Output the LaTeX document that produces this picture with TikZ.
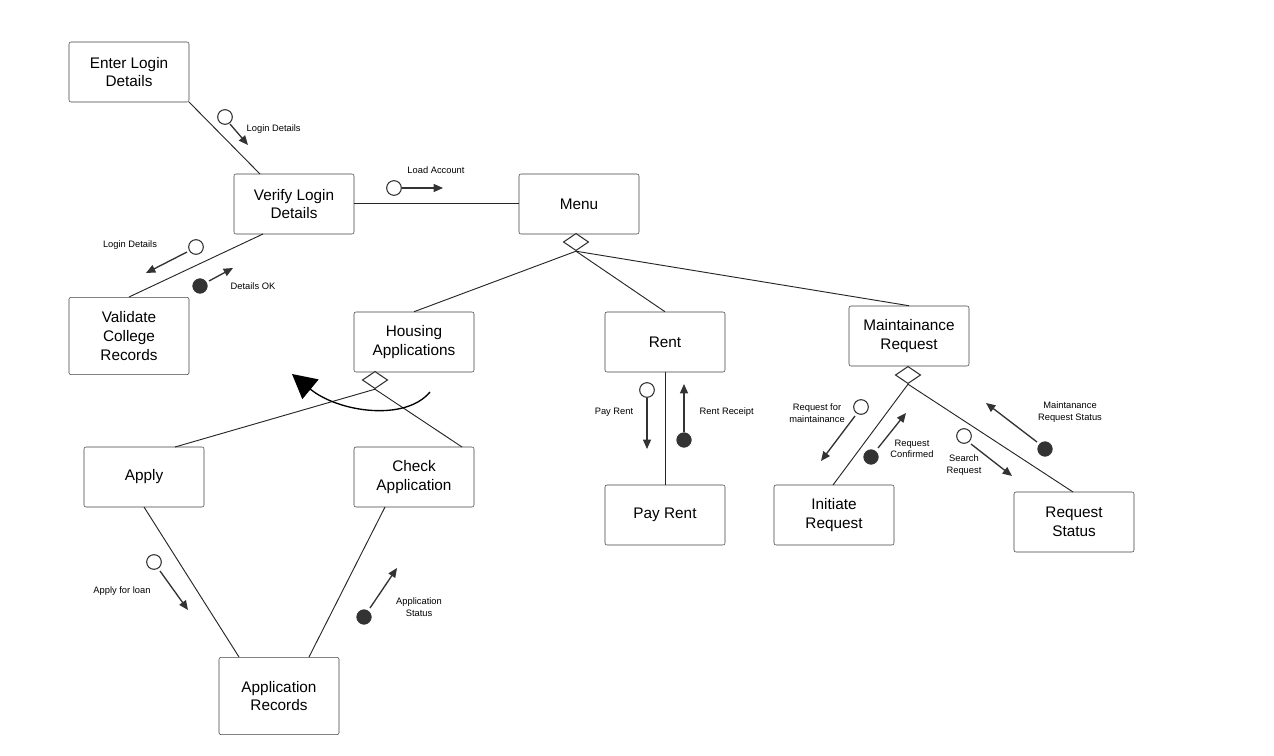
\documentclass[tikz,border=0pt]{standalone}
\usepackage{fontspec}
\setmainfont{Liberation Sans}
\usetikzlibrary{shapes.geometric,arrows.meta}
\begin{document}
\begin{tikzpicture}[x=0.75pt,y=-0.75pt,
 box/.style={draw=black!75,rounded corners=1.5pt,minimum width=90pt,minimum height=45pt,align=center,font=\fontsize{11.5}{14}\selectfont,fill=white},
 tall/.style={box,minimum height=58pt},
 ln/.style={draw=black!85,line width=0.7pt},
 dia/.style={draw=black!80,diamond,minimum width=19pt,minimum height=13pt,inner sep=0pt,fill=white,line width=0.8pt},
 msg/.style={draw=black!80,line width=1pt,-{Triangle[length=7pt,width=6pt]}},
 oc/.style={circle,draw=black!80,line width=0.8pt,minimum size=11pt,inner sep=0pt,fill=white},
 fc/.style={circle,draw=black!80,fill=black!80,minimum size=11pt,inner sep=0pt},
 lab/.style={font=\fontsize{7}{8.5}\selectfont,align=center}]
\useasboundingbox (0,0) rectangle (1274,756);
\node[box] (enter) at (129,72) {Enter Login\\Details};
\node[box] (verify) at (294,204) {Verify Login\\Details};
\node[tall] (validate) at (129,336) {Validate\\College\\Records};
\node[box] (menu) at (579,204) {Menu};
\node[box] (housing) at (414,342) {Housing\\Applications};
\node[box] (rent) at (665,342) {Rent};
\node[box] (maint) at (909,336) {Maintainance\\Request};
\node[box] (apply) at (144,477) {Apply};
\node[box] (check) at (414,477) {Check\\Application};
\node[box] (payrent) at (665,515) {Pay Rent};
\node[box] (initiate) at (834,515) {Initiate\\Request};
\node[box] (status) at (1074,522) {Request\\Status};
\node[tall] (records) at (279,696) {Application\\Records};
\node[dia] (d1) at (576,242) {};
\node[dia] (d2) at (375,380) {};
\node[dia] (d3) at (908,375) {};
\coordinate (enterB) at (189,102); \coordinate (verifyT) at (260,174);
\draw[ln] (enterB) -- (verifyT);
\coordinate (vr) at (354,203.6); \coordinate (ml) at (519,203.6);
\draw[ln] (vr) -- (ml);
\coordinate (vb) at (263,234); \coordinate (vt) at (129,297);
\draw[ln] (vb) -- (vt);
\draw[ln] (d1.south) -- (housing.north);
\draw[ln] (d1.south) -- (rent.north);
\draw[ln] (d1.south) -- (maint.north);
\coordinate (applyT) at (175,447); \coordinate (checkT) at (462,447);
\draw[ln] (d2.south) -- (applyT);
\draw[ln] (d2.south) -- (checkT);
\draw[ln] (rent.south) -- (payrent.north);
\coordinate (initT) at (833,485); \coordinate (statT) at (1073,492);
\draw[ln] (d3.south) -- (initT);
\draw[ln] (d3.south) -- (statT);
\coordinate (aB) at (144,507); \coordinate (rT1) at (239,657);
\coordinate (cB) at (385,507); \coordinate (rT2) at (309,657);
\draw[ln] (aB) -- (rT1);
\draw[ln] (cB) -- (rT2);
% curved arrow
\coordinate (ca1) at (430,392); \coordinate (ca2) at (292,374);
\draw[line width=1pt,-{Triangle[length=18pt,width=19pt]}] (ca1) .. controls (405,422) and (338,412) .. (ca2);
% messages
\node[oc] (m1) at (225,117) {}; \coordinate (m1e) at (248,145);
\draw[msg] (m1) ++(5,7) -- (m1e); \node[lab,anchor=west] at (242,129) {Login Details};
\node[oc] (m2) at (394,188) {}; \coordinate (m2e) at (443,188);
\draw[msg] (m2.east) -- (m2e); \node[lab] at (436,170) {Load Account};
\node[oc] (m3) at (196,247) {}; \coordinate (m3e) at (146,273);
\draw[msg] (187,252) -- (m3e); \node[lab] at (130,245) {Login Details};
\node[fc] (m4) at (200,286) {}; \coordinate (m4e) at (233,268);
\draw[msg] (209,281) -- (m4e); \node[lab,anchor=west] at (226,286) {Details OK};
\node[oc] (m5) at (647,390) {}; \coordinate (m5e) at (647,449);
\draw[msg] (m5.south) -- (m5e); \node[lab] at (614,412) {Pay Rent};
\node[fc] (m6) at (684,440) {}; \coordinate (m6e) at (684,384);
\draw[msg] (m6.north) -- (m6e); \node[lab,anchor=west] at (695,412) {Rent Receipt};
\node[oc] (m7) at (861,407) {}; \coordinate (m7e) at (821,461);
\draw[msg] (855,416) -- (m7e); \node[lab] at (817,413) {Request for\\maintainance};
\node[fc] (m8) at (871,457) {}; \coordinate (m8e) at (906,413);
\draw[msg] (878,448) -- (m8e); \node[lab] at (912,449) {Request\\Confirmed};
\node[oc] (m9) at (964,436) {}; \coordinate (m9e) at (1012,476);
\draw[msg] (971,444) -- (m9e); \node[lab] at (964,465) {Search\\Request};
\node[fc] (m10) at (1045,449) {}; \coordinate (m10e) at (986,403);
\draw[msg] (1037,442) -- (m10e); \node[lab] at (1070,412) {Maintanance\\Request Status};
\node[oc] (m11) at (154,562) {}; \coordinate (m11e) at (188,610);
\draw[msg] (160,571) -- (m11e); \node[lab] at (122,591) {Apply for loan};
\node[fc] (m12) at (364,617) {}; \coordinate (m12e) at (397,568);
\draw[msg] (370,608) -- (m12e); \node[lab] at (419,607) {Application\\Status};
\end{tikzpicture}
\end{document}
